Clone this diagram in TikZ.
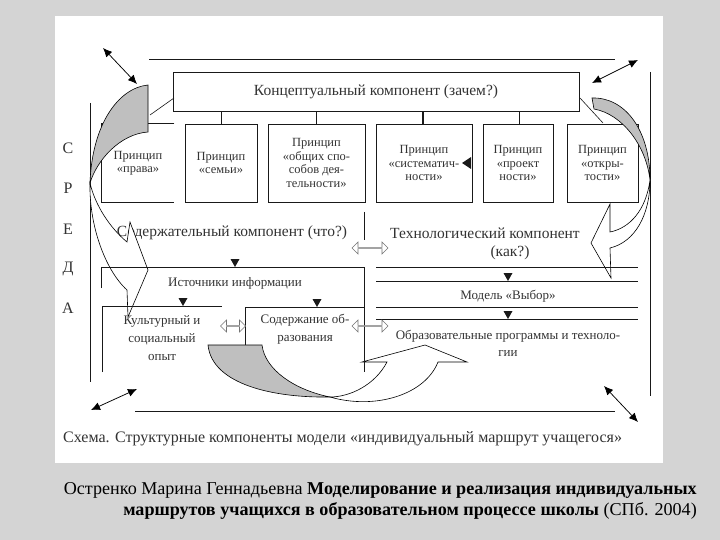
\documentclass[tikz,border=0pt]{standalone}
\usepackage{fontspec}
\setmainfont{Liberation Serif}
\usetikzlibrary{arrows.meta,shapes.arrows}
\begin{document}
\begin{tikzpicture}[x=1pt,y=-1pt,
  ln/.style={line width=0.75pt, draw=black!90},
  pbox/.style={draw=black!90, line width=0.75pt, minimum height=78pt, inner sep=0pt, align=center, font=\fontsize{12.5}{13.5}\selectfont, text=black!80},
  lbl/.style={inner sep=0pt, text=black!80},
  big/.style={font=\fontsize{15.5}{18}\selectfont},
  mid/.style={font=\fontsize{13}{18}\selectfont, align=center},
  hollow/.style={double arrow, draw=black!55, fill=white, line width=0.6pt, minimum width=12pt, double arrow head extend=2.5pt, inner sep=0pt},
  corner/.style={line width=0.75pt, draw=black, {Latex[length=9pt,width=8pt]}-{Latex[length=9pt,width=8pt]}},
  bandg/.style={draw=black, line width=0.6pt, fill=black!25},
  bandw/.style={draw=black, line width=0.6pt, fill=white},
  dtri/.pic={\fill[black!90] (-4.5,-8) -- (4.5,-8) -- (0,0) -- cycle;},
  ltri/.pic={\fill[black!90] (0,0) -- (9,-6) -- (9,6) -- cycle;}
]
\useasboundingbox (0,0) rectangle (720,540);
% slide background and page
\fill[black!17] (0,0) rectangle (720,540);
\fill[white] (55,16) rectangle (663,463);

% frame lines
\coordinate (ft1) at (149,59); \coordinate (ft2) at (615,59);
\coordinate (fb1) at (135,411); \coordinate (fb2) at (615,411);
\coordinate (fl1) at (90,103); \coordinate (fl2) at (90,382);
\coordinate (fr1) at (650,72); \coordinate (fr2) at (650,396);
\draw[ln] (ft1) -- (ft2);
\draw[ln] (fb1) -- (fb2);
\draw[ln] (fl1) -- (fl2);
\draw[ln] (fr1) -- (fr2);

% environment letters
\foreach \l/\y [count=\i] in {С/148,Р/188,Е/229,Д/269,А/308}
  \node[lbl, font=\fontsize{16}{18}\selectfont] (env\i) at (68,\y) {\l};

% conceptual component
\node[draw=black!90, line width=0.75pt, minimum width=406pt, minimum height=39pt, inner sep=0pt, big, text=black!80] (conc) at (376,91.5) {Концептуальный компонент (зачем?)};

% principle boxes
\node[pbox, draw=none, minimum width=72pt] (b1) at (138,163) {Принцип\\«права»};
\draw[ln] (b1.north east) -- (b1.north west) -- (b1.south west) -- (b1.south east);
\node[pbox, minimum width=72pt] (b2) at (221,163) {Принцип\\«семьи»};
\node[pbox, minimum width=97pt] (b3) at (316.5,163) {Принцип\\«общих спо-\\собов дея-\\тельности»};
\node[pbox, minimum width=96pt] (b4) at (424,163) {Принцип\\«систематич-\\ности»};
\node[pbox, minimum width=70pt] (b5) at (518,163) {Принцип\\«проект\\ности»};
\node[pbox, minimum width=71pt] (b6) at (602.5,163) {Принцип\\«откры-\\тости»};
\draw[ln] (b2.north) -- (b2.north |- conc.south);
\draw[ln] (b3.north) -- (b3.north |- conc.south);
\draw[ln, line width=1.3pt] ([xshift=-1pt]b4.north) -- ([xshift=-1pt]b4.north |- conc.south);
\draw[ln] ([xshift=1pt]b5.north) -- ([xshift=1pt]b5.north |- conc.south);
\pic at (462,163) {ltri};

% thin lines from bands to conceptual box
\coordinate (dl1) at (150,115); \coordinate (dl2) at (174,98);
\coordinate (dr1) at (580,98); \coordinate (dr2) at (603,123);
\draw[ln, line width=0.6pt] (dl1) -- (dl2);
\draw[ln, line width=0.6pt] (dr1) -- (dr2);

% middle headings
\node[lbl, big] (cont) at (232,233) {Содержательный компонент (что?)};
\node[lbl, big] (tech) at (485,233) {Технологический компонент};
\node[lbl, big] (how) at (510,253) {(как?)};

% content section
\node[lbl, mid] (src) at (235,283) {Источники информации};
\node[lbl, mid] (cult) at (162,338) {Культурный и\\социальный\\опыт};
\node[lbl, mid] (edu) at (305,329) {Содержание об-\\разования};

% technology section
\node[lbl, mid] (model) at (508,296) {Модель «Выбор»};
\node[lbl, mid, font=\fontsize{13}{17}\selectfont] (prog) at (508,343.5) {Образовательные программы и техноло-\\гии};

% left band
\fill[bandg] (148,85) .. controls (118,88) and (92,125) .. (90,183)
  .. controls (97,160) and (120,134) .. (148,132) -- cycle;
\fill[bandw] (90,183) .. controls (89,225) and (105,270) .. (127,290)
  -- (128,317) -- (148,270) -- (130,222) -- (127,242)
  .. controls (110,228) and (95,205) .. (90,183) -- cycle;
% right band
\fill[bandg] (592,98) .. controls (625,97) and (650,130) .. (650,180)
  .. controls (646,145) and (622,114) .. (594,109) -- cycle;
\fill[bandw] (650,180) .. controls (650,215) and (635,242) .. (610,248)
  -- (611,278) -- (591,243) -- (610,204) -- (610,232)
  .. controls (630,228) and (646,210) .. (650,180) -- cycle;
% bottom band
\fill[bandg] (208,345) .. controls (212,385) and (275,398) .. (330,397)
  .. controls (295,390) and (265,370) .. (262,345) -- cycle;
\fill[bandw] (330,397) .. controls (375,410) and (425,395) .. (438,362)
  -- (467,362) -- (425,345) -- (362,362) -- (387,362)
  .. controls (375,385) and (350,397) .. (330,397) -- cycle;

% centre divider
\coordinate (dv1) at (364,212); \coordinate (dv2) at (364,240);
\coordinate (dv3) at (364,267); \coordinate (dv4) at (364,372);
\draw[ln] (dv1) -- (dv2);
\draw[ln] (dv3) -- (dv4);

% content boxes lines
\coordinate (s1) at (101,288); \coordinate (s2) at (101,267);
\draw[ln] (s1) -- (s2) -- (dv3);
\coordinate (c1) at (102,372); \coordinate (c2) at (102,306); \coordinate (c3) at (222,306);
\draw[ln] (c1) -- (c2) -- (c3);
\coordinate (e1) at (245,345); \coordinate (e2) at (245,307); \coordinate (e3) at (364,307);
\draw[ln] (e1) -- (e2) -- (e3);
\pic at (235,267) {dtri};
\pic at (183,306) {dtri};
\pic at (317,307) {dtri};

% technology lines
\foreach \y [count=\i] in {267,281,307,319} {
  \coordinate (ra\i) at (376,\y); \coordinate (rb\i) at (638,\y);
  \draw[ln] (ra\i) -- (rb\i);
}
\pic at (508,281) {dtri};
\pic at (508,319) {dtri};

% hollow double arrows
\node[hollow, minimum height=36pt] (ha1) at (370,248) {};
\node[hollow, minimum height=25pt] (ha2) at (233,326) {};
\node[hollow, minimum height=36pt] (ha3) at (370,326) {};

% corner arrows
\coordinate (tl1) at (103,48); \coordinate (tl2) at (137,84);
\coordinate (tr1) at (592,83); \coordinate (tr2) at (638,60);
\coordinate (bl1) at (91,410); \coordinate (bl2) at (137,389);
\coordinate (br1) at (604,386); \coordinate (br2) at (638,422);
\draw[corner] (tl1) -- (tl2);
\draw[corner] (tr1) -- (tr2);
\draw[corner] (bl1) -- (bl2);
\draw[corner] (br1) -- (br2);

% caption
\node[lbl, anchor=base west, font=\fontsize{16}{18}\selectfont] (cap) at (63,442)
  {Схема. Структурные компоненты модели «индивидуальный маршрут учащегося»};

% reference
\node[inner sep=0pt, anchor=east, align=right, font=\fontsize{18.1}{21}\selectfont] (ref) at (697,500.5)
  {Остренко Марина Геннадьевна \textbf{Моделирование и реализация индивидуальных}\\
   \textbf{маршрутов учащихся в образовательном процессе школы} (СПб. 2004)};
\end{tikzpicture}
\end{document}
